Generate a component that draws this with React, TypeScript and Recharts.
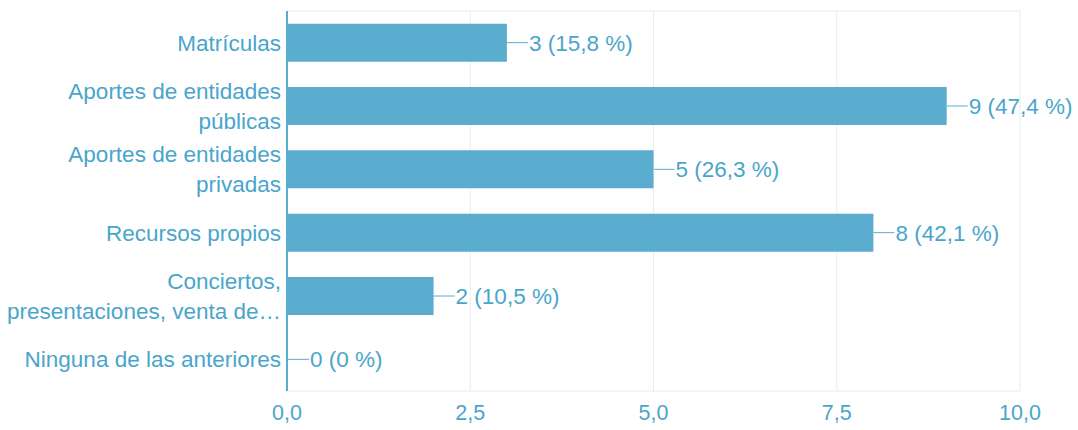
import { BarChart, Bar, XAxis, YAxis, CartesianGrid, LabelList } from 'recharts';

const categories = [
  ['Matrículas'],
  ['Aportes de entidades', 'públicas'],
  ['Aportes de entidades', 'privadas'],
  ['Recursos propios'],
  ['Conciertos,', 'presentaciones, venta de…'],
  ['Ninguna de las anteriores'],
];
const counts = [3, 9, 5, 8, 2, 0];
const percents = ['15,8', '47,4', '26,3', '42,1', '10,5', '0'];
const xTicks = [0, 2.5, 5, 7.5, 10];

const BAR = '#5badd0';
const TEXT = '#4aa5cb';
const FONT = '"Liberation Sans", Arial, sans-serif';
const FS = 22.5;
const TICK_FS = 21.5;

const data = categories.map((lines, i) => ({
  name: lines.join('\n'),
  value: counts[i],
  label: `${counts[i]} (${percents[i]} %)`,
}));

const CategoryTick = (props: any) => {
  const { x, y, payload } = props;
  const lines = String(payload.value).split('\n');
  const lh = 30;
  const start = -((lines.length - 1) * lh) / 2;
  return (
    <text x={x + 2} y={y} textAnchor="end" fill={TEXT} fontSize={FS} fontFamily={FONT}>
      {lines.map((l, i) => (
        <tspan key={i} x={x + 2} y={y + start + i * lh} dy="0.35em">
          {l}
        </tspan>
      ))}
    </text>
  );
};

const ValueLabel = (props: any) => {
  const { x, y, width, height, value } = props;
  const ex = x + width;
  const cy = y + height / 2;
  return (
    <g>
      <line x1={ex} y1={cy} x2={ex + 21} y2={cy} stroke={BAR} strokeWidth={1} />
      <text x={ex + 22} y={cy} dy="0.35em" fill={TEXT} fontSize={FS} fontFamily={FONT}>
        {value}
      </text>
    </g>
  );
};

export default function App() {
  return (
    <div style={{ position: 'absolute', left: 0, top: 0, background: '#fff' }}>
      <BarChart
        width={1078}
        height={430}
        data={data}
        layout="vertical"
        margin={{ top: 11, right: 58, bottom: 0, left: 0 }}
        barCategoryGap="20%"
      >
        <CartesianGrid
          stroke="#e6edf2"
          horizontalCoordinatesGenerator={({ offset }: any) => [offset.top]}
        />
        <XAxis
          type="number"
          domain={[0, 10]}
          ticks={xTicks}
          tickFormatter={(v: number) => v.toFixed(1).replace('.', ',')}
          axisLine={{ stroke: '#e6edf2' }}
          tickLine={false}
          tick={{ fill: TEXT, fontSize: TICK_FS, fontFamily: FONT }}
          tickMargin={8}
          height={39}
        />
        <YAxis
          type="category"
          dataKey="name"
          width={287}
          axisLine={{ stroke: BAR, strokeWidth: 2 }}
          tickLine={false}
          tick={<CategoryTick />}
          interval={0}
        />
        <Bar dataKey="value" fill={BAR} minPointSize={1} isAnimationActive={false}>
          <LabelList dataKey="label" content={<ValueLabel />} />
        </Bar>
      </BarChart>
    </div>
  );
}
